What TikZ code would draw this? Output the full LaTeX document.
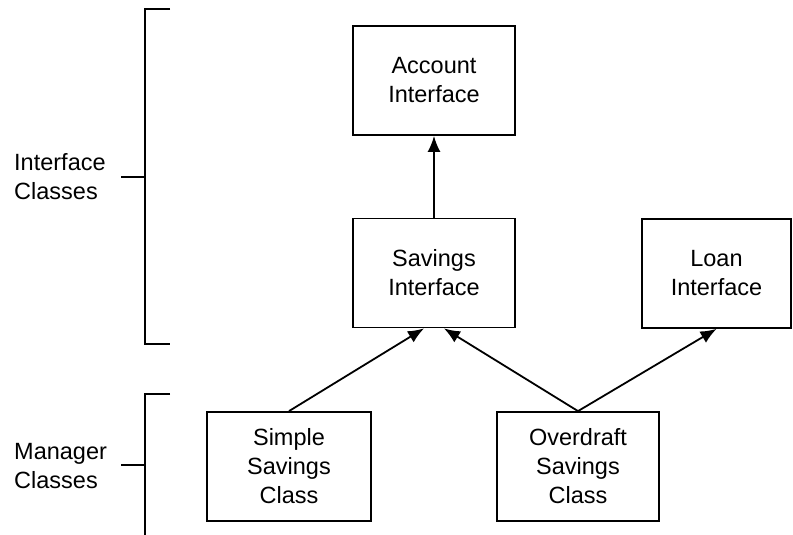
\documentclass[tikz,border=0pt]{standalone}
\usepackage{fontspec}
\setmainfont{Liberation Sans}
\usetikzlibrary{arrows.meta}
\begin{document}
\begin{tikzpicture}[x=1pt,y=-1pt,
  box/.style={draw,line width=1.8pt,inner sep=0pt,align=center,
    minimum height=109pt,font=\fontsize{23.5}{29}\selectfont},
  lbl/.style={anchor=west,inner sep=0pt,align=left,font=\fontsize{23.5}{29}\selectfont},
  arr/.style={line width=1.8pt,-{Latex[length=16pt,width=13pt]}},
  brk/.style={line width=1.8pt}]
\useasboundingbox (0,0) rectangle (793,535);
\node[box,minimum width=162pt] (account) at (434,80.5) {Account\\Interface};
\node[box,minimum width=162pt] (savings) at (434,273) {Savings\\Interface};
\node[box,minimum width=149pt] (loan) at (716.5,273.5) {Loan\\Interface};
\node[box,minimum width=164pt] (simple) at (289,466.5) {Simple\\Savings\\Class};
\node[box,minimum width=162pt] (overdraft) at (578,466.5) {Overdraft\\Savings\\Class};
\draw[arr] (savings.north) -- (account.south);
\draw[arr] (simple.north) -- ([xshift=-10pt]savings.south);
\draw[arr] (overdraft.north) -- ([xshift=10pt]savings.south);
\draw[arr] (overdraft.north) -- (loan.south);
\node[lbl] (ilabel) at (14,177) {Interface\\Classes};
\node[lbl] (mlabel) at (14,466) {Manager\\Classes};
\draw[brk] (170,9) -- (145,9) -- (145,344) -- (170,344);
\draw[brk] (121,177) -- (145,177);
\draw[brk] (170,394) -- (145,394) -- (145,540);
\draw[brk] (121,465) -- (145,465);
\end{tikzpicture}
\end{document}
